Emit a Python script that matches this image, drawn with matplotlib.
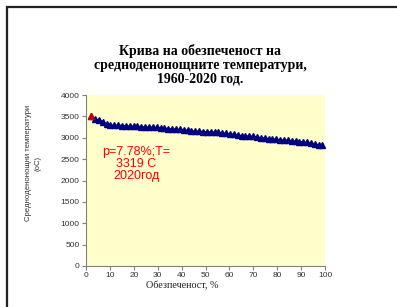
import numpy as np
import matplotlib.pyplot as plt
from matplotlib.patches import Rectangle

# средноденонощни температури (сума), подредени по намаляване, 1960-2020
temps = [3500, 3430, 3420, 3380, 3319, 3300, 3295, 3290, 3285, 3280,
         3275, 3270, 3265, 3260, 3255, 3250, 3245, 3240, 3235, 3225,
         3215, 3210, 3200, 3195, 3185, 3170, 3160, 3155, 3150, 3145,
         3140, 3135, 3130, 3125, 3115, 3100, 3090, 3080, 3060, 3050,
         3045, 3040, 3030, 3020, 3000, 2990, 2980, 2970, 2960, 2950,
         2945, 2940, 2930, 2920, 2910, 2905, 2890, 2870, 2850, 2835,
         2820]
n = len(temps)
prob = [(m + 0.35) / (n + 1) * 100 for m in range(1, n + 1)]

xticks = list(range(0, 101, 10))
yticks = list(range(0, 4001, 500))

title = "Крива на обезпеченост на\nсредноденонощните температури,\n1960-2020 год."
note = "p=7.78%;T=\n3319 C\n2020год"

fig = plt.figure(figsize=(3.97, 3.07), dpi=100)

# рамка на диаграмата
fig.patches.append(Rectangle((7/397, -0.1), 1.2, 1 - 7/307 + 0.1, transform=fig.transFigure,
                             fill=False, edgecolor='#222222', linewidth=1.6))

ax = fig.add_axes([86/397, 1 - 266/307, 239/397, 171/307])
ax.set_facecolor('#FFFFCC')
ax.plot(prob, temps, color='#000080', linewidth=1, marker='^', markersize=4,
        markeredgecolor='#000080', markerfacecolor='#000080')
ax.plot(prob[0], temps[0], marker='^', markersize=4, color='#CC0000', linestyle='none')

ax.set_xlim(0, 100)
ax.set_ylim(0, 4000)
ax.set_xticks(xticks)
ax.set_yticks(yticks)
for s in ['top', 'right']:
    ax.spines[s].set_visible(False)
for s in ['left', 'bottom']:
    ax.spines[s].set_color('#808080')
    ax.spines[s].set_linewidth(0.8)
ax.tick_params(direction='out', length=3, width=0.8, color='#808080',
               labelsize=6, labelcolor='#333333', pad=1.5)
for lab in ax.get_xticklabels() + ax.get_yticklabels():
    lab.set_family('Liberation Sans')

fig.text(182/397, 1 - 286/307, "Обезпеченост, %", ha='center', va='center',
         fontsize=7.3, family='Liberation Serif', color='#222222')
fig.text(33/397, 1 - 163/307, "Средноденонощни температури\n(оС)", rotation=90,
         ha='center', va='center', fontsize=5.6, family='Liberation Sans',
         color='#333333', linespacing=1.55)

fig.text(200/397, 1 - 65/307, title, ha='center', va='center', fontsize=10,
         fontweight='bold', family='Liberation Serif', linespacing=1.05)

fig.text(136/397, 1 - 164/307, note, ha='center', va='center', fontsize=9,
         family='Liberation Sans', color='#FF0000', linespacing=1.0)

fig.savefig('out.png', dpi=100)
